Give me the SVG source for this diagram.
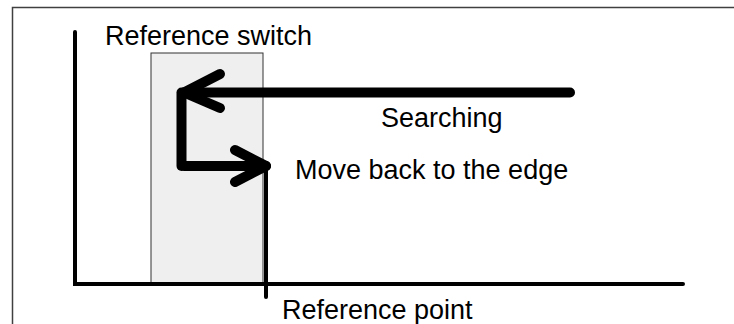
<svg xmlns="http://www.w3.org/2000/svg" width="734" height="324" viewBox="0 0 734 324">
<style>
.t{font-family:"Liberation Sans",Arial,sans-serif;font-size:27px;fill:#000}
.ax{stroke:#000;stroke-width:4;fill:none;stroke-linecap:round}
.arr{stroke:#000;stroke-width:10;fill:none;stroke-linecap:round;stroke-linejoin:round}
</style>
<rect x="0" y="0" width="734" height="324" fill="#fff"/>
<path d="M12.5,324 V7.5 H734" fill="none" stroke="#404040" stroke-width="1.5"/>
<g id="switch-zone">
<rect x="151" y="53" width="112" height="231" fill="#efefef" stroke="#333" stroke-width="1"/>
</g>
<g id="axes">
<path class="ax" d="M75,32 V284 H683"/>
</g>
<g id="connectors">
<path class="arr" d="M570,92.5 H184"/>
<path class="arr" d="M220,74 L184,92.5 L220,108"/>
<path class="arr" stroke-width="6" d="M181.5,92.5 V166"/>
<path class="arr" stroke-width="9" d="M184,166 H266"/>
<path class="arr" stroke-width="9" d="M235,150 L266,166 L235,182"/>
<path class="ax" d="M266,166 V297"/>
</g>
<g id="labels">
<text class="t" x="105" y="45">Reference switch</text>
<text class="t" x="381" y="127">Searching</text>
<text class="t" x="295" y="179">Move back to the edge</text>
<text class="t" x="282" y="319">Reference point</text>
</g>
</svg>
